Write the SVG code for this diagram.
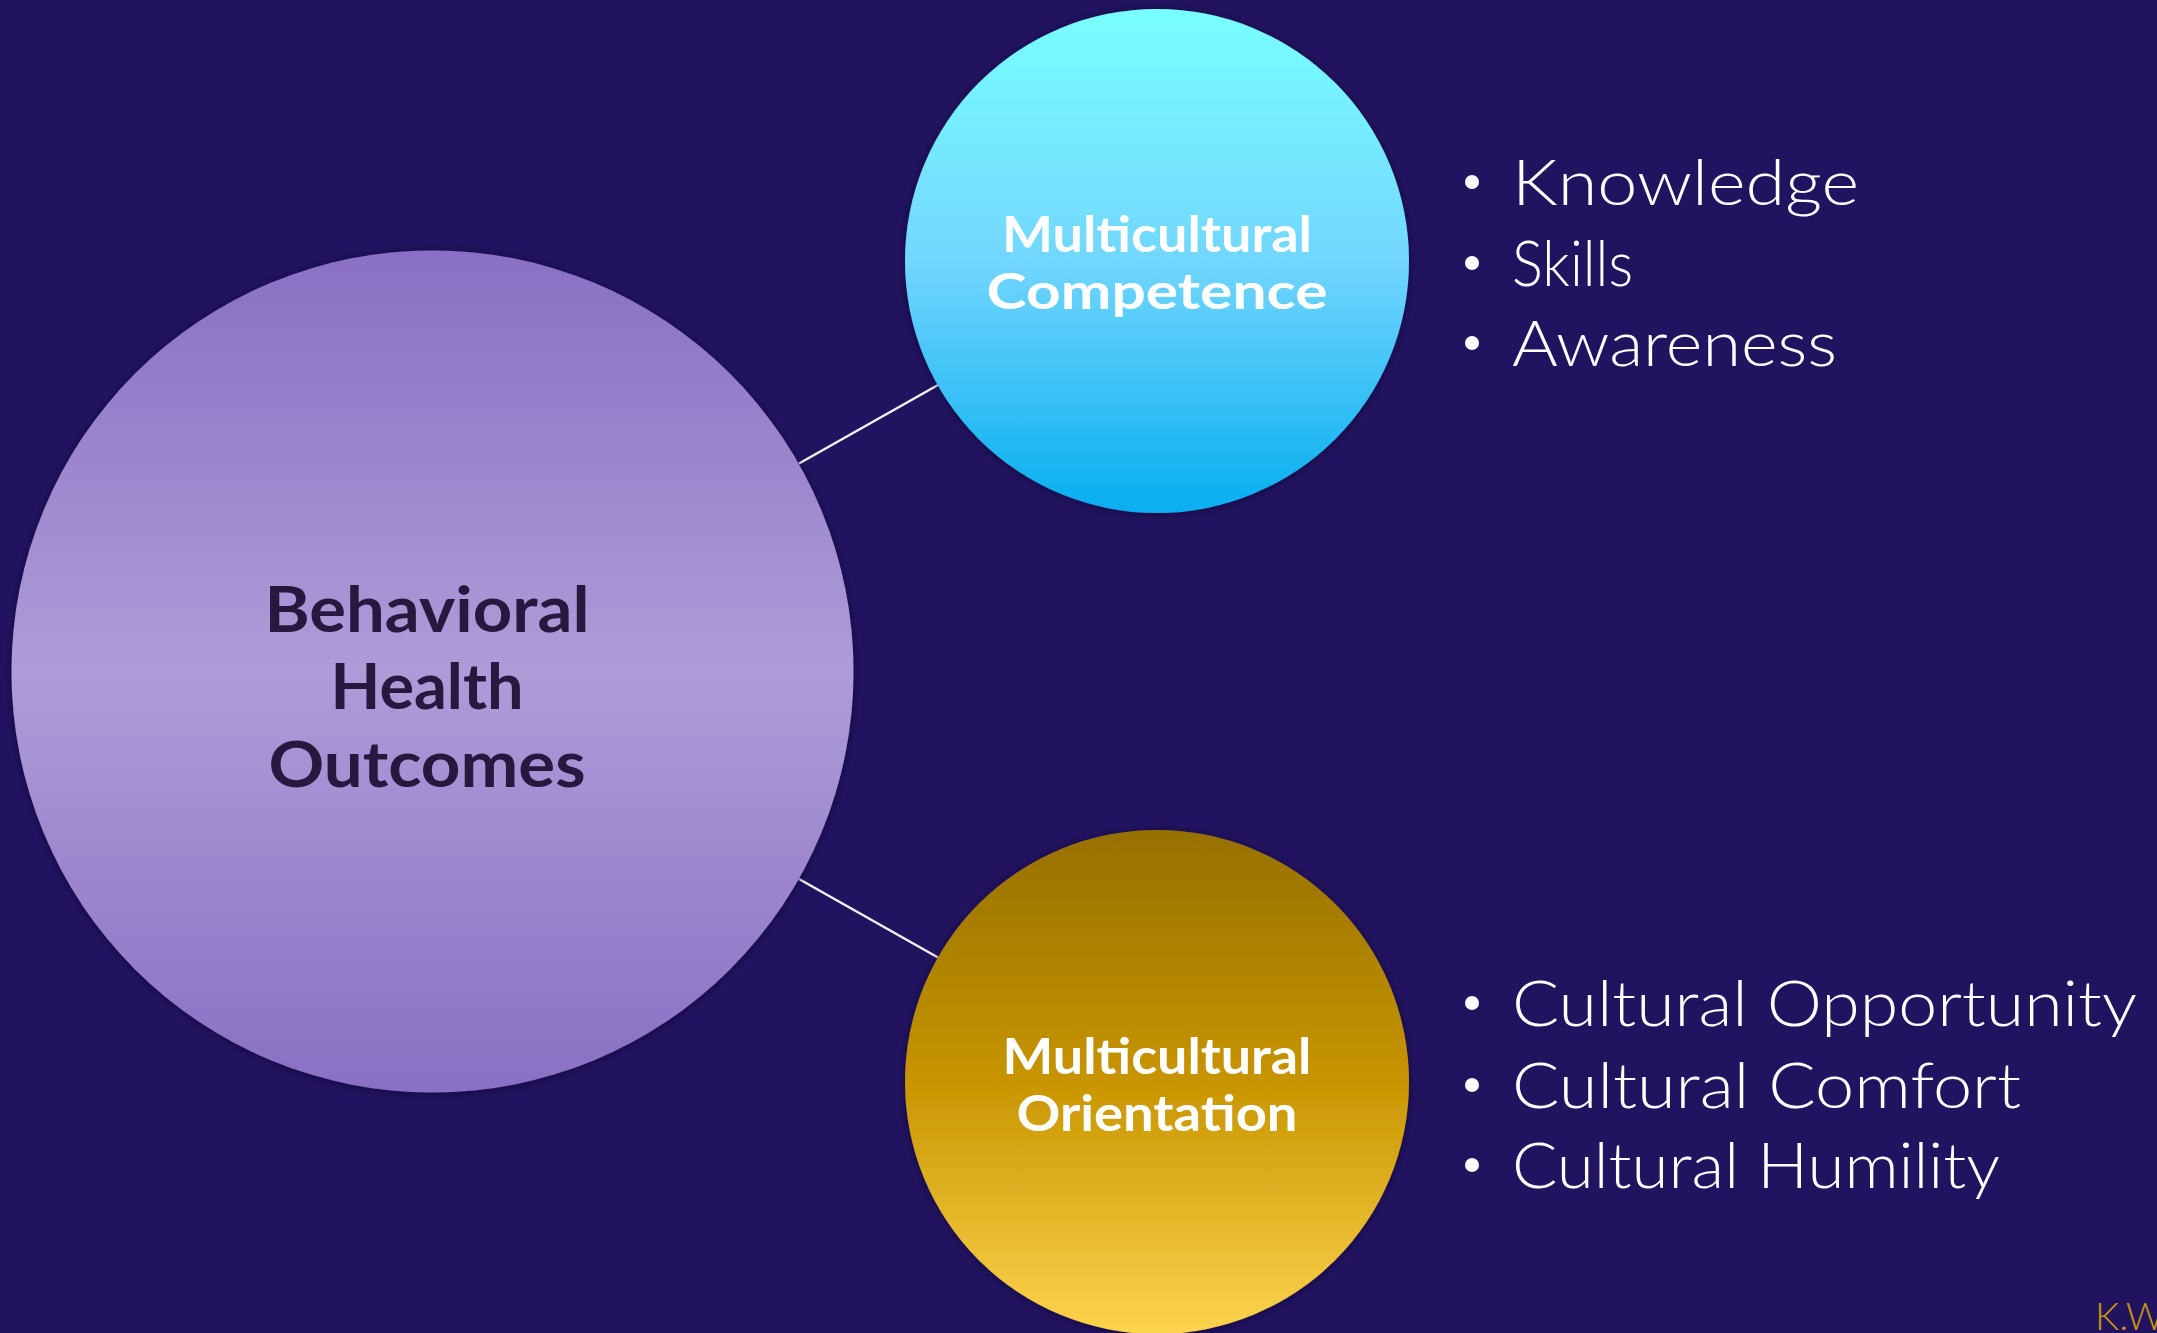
<svg xmlns="http://www.w3.org/2000/svg" width="2157" height="1333" viewBox="0 0 2157 1333">
  <defs>
    <linearGradient id="gPurple" x1="0" y1="0" x2="0" y2="1">
      <stop offset="0" stop-color="#8970C4"/>
      <stop offset="0.5" stop-color="#AE9CD8"/>
      <stop offset="1" stop-color="#8970C4"/>
    </linearGradient>
    <linearGradient id="gCyan" x1="0" y1="0" x2="0" y2="1">
      <stop offset="0" stop-color="#78FFFF"/>
      <stop offset="0.5" stop-color="#72D6FE"/>
      <stop offset="1" stop-color="#06AEEF"/>
    </linearGradient>
    <linearGradient id="gGold" x1="0" y1="0" x2="0" y2="1">
      <stop offset="0" stop-color="#967000"/>
      <stop offset="0.5" stop-color="#C89500"/>
      <stop offset="1" stop-color="#FDD44E"/>
    </linearGradient>
    <filter id="shadow" x="-10%" y="-10%" width="120%" height="120%">
      <feDropShadow dx="0" dy="1" stdDeviation="4" flood-color="#0A0428" flood-opacity="0.6"/>
    </filter>
  </defs>
  <style>
    .bg { fill: #221360; }
    .hub { font-family: Lato, "Liberation Sans", sans-serif; font-weight: 700; font-size: 64px; fill: #28183F; text-anchor: middle; }
    .lbl { font-family: Lato, "Liberation Sans", sans-serif; font-weight: 700; font-size: 50px; fill: #FFFFFF; text-anchor: middle; }
    .item { font-family: Lato, "Liberation Sans", sans-serif; font-weight: 300; font-size: 64px; fill: #FFFFFF; }
    .dot { fill: #FFFFFF; }
    .link { stroke: #F2F2F2; stroke-width: 2.5; fill: none; }
    .sig { font-family: Lato, "Liberation Sans", sans-serif; font-weight: 300; font-size: 38px; fill: #C8960C; }
  </style>

  <rect class="bg" x="0" y="0" width="2157" height="1333"/>

  <!-- connectors between the hub and the two satellites -->
  <g id="connectors">
    <line class="link" x1="799" y1="463.5" x2="938" y2="385"/>
    <line class="link" x1="799" y1="879" x2="938" y2="957.5"/>
  </g>

  <!-- central hub -->
  <g id="node-outcomes">
    <circle cx="432.5" cy="671.5" r="421" fill="url(#gPurple)" filter="url(#shadow)"/>
    <text class="hub" x="427" y="632" textLength="325" lengthAdjust="spacingAndGlyphs">Behavioral</text>
    <text class="hub" x="427" y="709" textLength="193" lengthAdjust="spacingAndGlyphs">Health</text>
    <text class="hub" x="427" y="787" textLength="317" lengthAdjust="spacingAndGlyphs">Outcomes</text>
  </g>

  <!-- competence satellite -->
  <g id="node-competence">
    <circle cx="1157" cy="261" r="252" fill="url(#gCyan)" filter="url(#shadow)"/>
    <text class="lbl" x="1157" y="252" textLength="310" lengthAdjust="spacingAndGlyphs">Multicultural</text>
    <text class="lbl" x="1157" y="309" textLength="341" lengthAdjust="spacingAndGlyphs">Competence</text>
  </g>

  <!-- orientation satellite -->
  <g id="node-orientation">
    <circle cx="1157" cy="1082" r="252" fill="url(#gGold)" filter="url(#shadow)"/>
    <text class="lbl" x="1157" y="1074" textLength="309" lengthAdjust="spacingAndGlyphs">Multicultural</text>
    <text class="lbl" x="1157" y="1131" textLength="281" lengthAdjust="spacingAndGlyphs">Orientation</text>
  </g>

  <!-- competence components -->
  <g id="list-competence">
    <circle class="dot" cx="1472" cy="182" r="7"/>
    <text class="item" x="1512" y="205" textLength="347" lengthAdjust="spacingAndGlyphs">Knowledge</text>
    <circle class="dot" cx="1472" cy="263" r="7"/>
    <text class="item" x="1512" y="286" textLength="121" lengthAdjust="spacingAndGlyphs">Skills</text>
    <circle class="dot" cx="1472" cy="343" r="7"/>
    <text class="item" x="1512" y="366" textLength="325" lengthAdjust="spacingAndGlyphs">Awareness</text>
  </g>

  <!-- orientation components -->
  <g id="list-orientation">
    <circle class="dot" cx="1472" cy="1003" r="7"/>
    <text class="item" x="1512" y="1026" textLength="625" lengthAdjust="spacingAndGlyphs">Cultural Opportunity</text>
    <circle class="dot" cx="1472" cy="1085" r="7"/>
    <text class="item" x="1512" y="1108" textLength="509" lengthAdjust="spacingAndGlyphs">Cultural Comfort</text>
    <circle class="dot" cx="1472" cy="1165" r="7"/>
    <text class="item" x="1512" y="1188" textLength="488" lengthAdjust="spacingAndGlyphs">Cultural Humility</text>
  </g>

  <text class="sig" x="2095" y="1330">K.W</text>
</svg>
